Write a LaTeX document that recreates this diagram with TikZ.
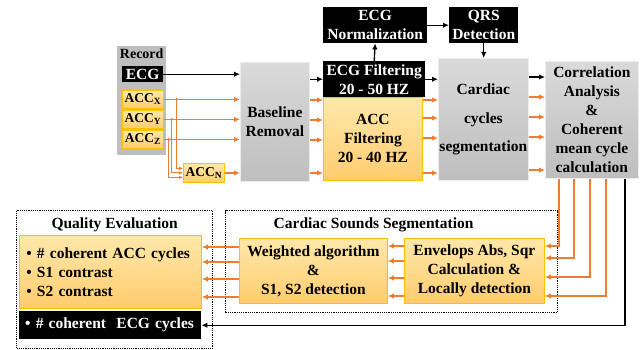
\documentclass[tikz,border=0pt]{standalone}
\usepackage{fontspec}
\setmainfont{Liberation Serif}
\usetikzlibrary{arrows.meta,positioning,shadings}

\definecolor{accline}{RGB}{237,125,49}
\definecolor{accedge}{RGB}{255,192,0}
\definecolor{acctop}{RGB}{255,232,170}
\definecolor{accbot}{RGB}{255,204,110}
\definecolor{grytop}{RGB}{218,218,218}
\definecolor{grybot}{RGB}{190,190,190}

\tikzset{
  box/.style={anchor=north west, inner sep=0pt, align=center, font=\fontsize{15.5}{19}\selectfont\bfseries},
  blk/.style={box, fill=black, text=white},
  acc/.style={box, draw=accedge, line width=0.8pt, top color=acctop, bottom color=accbot},
  chan/.style={acc, minimum width=41pt, font=\fontsize{13.5}{16}\selectfont\bfseries},
  gry/.style={box, draw=grytop!50!white, line width=0.8pt, top color=grytop, bottom color=grybot},
  dotbox/.style={anchor=north west, draw, densely dotted, line width=1.2pt},
  title/.style={inner sep=0pt, font=\fontsize{15.5}{19}\selectfont\bfseries},
  oarr/.style={draw=accline, line width=1.3pt, -{Latex[length=6pt,width=5.5pt]}},
  barr/.style={draw=black, line width=1.3pt, -{Latex[length=6pt,width=5.5pt]}},
  feed/.style={draw=accline, line width=0.8pt, -{Latex[length=4pt,width=3.5pt]}},
}

\begin{document}
\begin{tikzpicture}[x=1pt,y=-1pt]
\useasboundingbox (0,0) rectangle (640,350);

% record
\node[box, fill=grybot, minimum width=49pt, minimum height=109pt] (rec) at (117,46) {};
\node[title, font=\fontsize{14}{16}\selectfont\bfseries, below=3pt of rec.north] (rectxt) {Record};
\node[blk, minimum width=41pt, minimum height=16pt] (ecg) at (122,66) {ECG};
\node[chan, minimum height=18pt] (accx) at (122,90) {ACC\textsubscript{X}};
\node[chan, minimum height=18pt] (accy) at (122,110) {ACC\textsubscript{Y}};
\node[chan, minimum height=18pt] (accz) at (122,130) {ACC\textsubscript{Z}};
\node[chan, minimum height=19pt] (accn) at (183,163) {ACC\textsubscript{N}};

% processing blocks
\node[gry, minimum width=69pt, minimum height=119pt] (base) at (240,62) {Baseline\\Removal};
\node[blk, minimum width=102pt, minimum height=36pt] (ecgf) at (323,61) {ECG Filtering\\20 - 50 HZ};
\node[acc, minimum width=99pt, minimum height=83pt] (accf) at (323,97) {ACC\\Filtering\\20 - 40 HZ};
\node[blk, minimum width=104pt, minimum height=36pt] (norm) at (323,7) {ECG\\Normalization};
\node[blk, minimum width=69pt, minimum height=36pt] (qrs) at (449,7) {QRS\\Detection};
\node[gry, minimum width=90pt, minimum height=122pt, font=\fontsize{15.5}{28.5}\selectfont\bfseries] (card) at (438,58) {Cardiac\\cycles\\segmentation};
\node[gry, minimum width=93pt, minimum height=117pt] (corr) at (545,61) {Correlation\\Analysis\\\&\\Coherent\\mean cycle\\calculation};

% quality evaluation
\node[dotbox, minimum width=196pt, minimum height=138pt] (qual) at (16,210) {};
\node[title, below=8pt of qual.north] (qualtxt) {Quality Evaluation};
\node[acc, minimum width=182pt, minimum height=73pt, text width=168pt, align=left] (qacc) at (19,235) {\textbullet\ \# coherent ACC cycles\\\textbullet\ S1 contrast\\\textbullet\ S2 contrast};
\node[blk, minimum width=182pt, minimum height=28pt, text width=170pt, align=left] (qecg) at (19,311) {\textbullet\ \# coherent\ \ ECG cycles};

% cardiac sounds segmentation
\node[dotbox, minimum width=332pt, minimum height=102pt] (css) at (225,210) {};
\node[title, below=8pt of css.north, xshift=-18pt] (csstxt) {Cardiac Sounds Segmentation};
\node[acc, minimum width=148pt, minimum height=65pt] (wgt) at (239,238) {Weighted algorithm\\\&\\S1, S2 detection};
\node[acc, minimum width=140pt, minimum height=65pt] (env) at (404,238) {Envelops Abs, Sqr\\Calculation \&\\Locally detection};

% record to baseline
\draw[barr] (ecg) -- (ecg -| base.west);
\foreach \n in {accx,accy,accz,accn}
  \draw[oarr] (\n) -- (\n -| base.west);
\draw[feed] ([xshift=13pt]accx.east) |- ([yshift=4.5pt]accn.west);
\draw[feed] ([xshift=8pt]accy.east) |- (accn.west);
\draw[feed] ([xshift=5pt]accz.east) |- ([yshift=-4.5pt]accn.west);
\fill[accline] ([xshift=13pt]accx.east) circle (1.5pt);
\fill[accline] ([xshift=8pt]accy.east) circle (1.5pt);
\fill[accline] ([xshift=5pt]accz.east) circle (1.5pt);

% ecg path
\draw[barr] (base.east |- ecgf) -- (ecgf.west);
\draw[barr] (ecgf.north) -- (norm.south);
\draw[barr] (norm) -- (qrs);
\draw[barr] (qrs.south) -- (qrs.south |- card.north);
\draw[barr] (ecgf) -- (ecgf -| card.west);
\draw[barr] (card.east |- 0,77) -- (corr.west |- 0,77);

% acc lanes
\foreach \y in {100,120,140,173}
  \draw[oarr] (base.east |- 0,\y) -- (accf.west |- 0,\y);
\foreach \y in {100,118,138,173}
  \draw[oarr] (accf.east |- 0,\y) -- (card.west |- 0,\y);
\foreach \y in {97,117,137,170}
  \draw[oarr] (card.east |- 0,\y) -- (corr.west |- 0,\y);

% down to segmentation and quality
\foreach \x/\y in {559/246,574/258,590/277,606/296}
  \draw[oarr] (corr.south -| \x,0) |- (env.east |- 0,\y);
\draw[barr] (corr.south -| 625,0) |- (qecg.east);
\foreach \y in {246,261,278,296}
  \draw[oarr] (env.west |- 0,\y) -- (wgt.east |- 0,\y);
\foreach \y in {247,262,279,297}
  \draw[oarr] (wgt.west |- 0,\y) -- (qacc.east |- 0,\y);
\end{tikzpicture}
\end{document}
